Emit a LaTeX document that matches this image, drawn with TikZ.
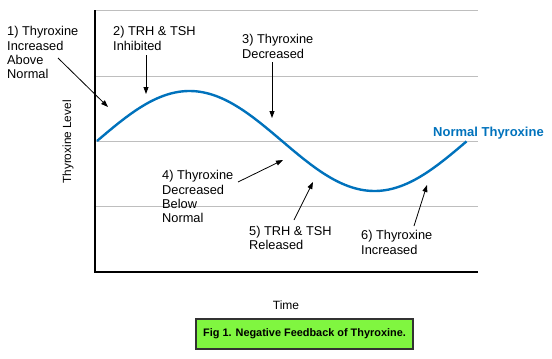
\documentclass[tikz,border=0pt]{standalone}
\usepackage{fontspec}
\setmainfont{Liberation Sans}
\usetikzlibrary{arrows.meta}
\definecolor{curveblue}{RGB}{0,114,188}
\definecolor{gridgray}{RGB}{190,190,190}
\definecolor{capgreen}{RGB}{128,246,64}
\definecolor{capborder}{RGB}{50,50,50}
\tikzset{
  lbl/.style={font=\fontsize{12.8}{14.2}\selectfont, align=left, inner sep=0pt, anchor=north west},
  gridline/.style={draw=gridgray, line width=1pt},
  axisline/.style={draw=black, line width=1.2pt},
  pointer/.style={draw=black, line width=0.8pt, -{Triangle[length=7pt,width=5pt]}},
}
\begin{document}
\begin{tikzpicture}[x=1pt,y=-1pt]
\useasboundingbox (0,0) rectangle (552,359);
% grid
\coordinate (g1l) at (95,10.5);  \coordinate (g1r) at (478,10.5);
\coordinate (g2l) at (95,76);    \coordinate (g2r) at (478,76);
\coordinate (g3l) at (95,141);   \coordinate (g3r) at (478,141);
\coordinate (g4l) at (95,206);   \coordinate (g4r) at (478,206);
\draw[gridline] (g1l) -- (g1r);
\draw[gridline] (g2l) -- (g2r);
\draw[gridline] (g3l) -- (g3r);
\draw[gridline] (g4l) -- (g4r);
% axes
\coordinate (ytop) at (95,10);
\coordinate (orig) at (95,272);
\coordinate (xend) at (478,272);
\draw[axisline] (ytop) -- (orig) -- (xend);
% curve
\draw[curveblue, line width=2.4pt, domain=0:1, samples=120, smooth]
  plot ({97+370*\x}, {141-50*sin(360*\x)});
% labels
\node[font=\fontsize{13}{14}\selectfont\bfseries, text=curveblue, inner sep=0pt] (normal) at (488.5,133) {Normal Thyroxine};
\node[font=\fontsize{11.8}{13}\selectfont, rotate=90, inner sep=0pt] (ylab) at (68,142) {Thyroxine Level};
\node[font=\fontsize{12}{13}\selectfont, inner sep=0pt] (xlab) at (286,305) {Time};

\node[lbl] (l1) at (7,26.5) {1) Thyroxine\\Increased\\Above\\Normal};
\node[lbl] (l2) at (113,26.5) {2) TRH \& TSH\\Inhibited};
\node[lbl] (l3) at (242,34.5) {3) Thyroxine\\Decreased};
\node[lbl] (l4) at (162,170.5) {4) Thyroxine\\Decreased\\Below\\Normal};
\node[lbl] (l5) at (249,226) {5) TRH \& TSH\\Released};
\node[lbl] (l6) at (361,230.5) {6) Thyroxine\\Increased};

% arrows
\coordinate (a1s) at (58,58);   \coordinate (a1e) at (108,107);
\coordinate (a2s) at (146,55);  \coordinate (a2e) at (146,94);
\coordinate (a3s) at (272,62);  \coordinate (a3e) at (272,118);
\coordinate (a4s) at (238,182); \coordinate (a4e) at (283,160);
\coordinate (a5s) at (294,220); \coordinate (a5e) at (313,182);
\coordinate (a6s) at (414,226); \coordinate (a6e) at (427,185);
\draw[pointer] (a1s) -- (a1e);
\draw[pointer] (a2s) -- (a2e);
\draw[pointer] (a3s) -- (a3e);
\draw[pointer] (a4s) -- (a4e);
\draw[pointer] (a5s) -- (a5e);
\draw[pointer] (a6s) -- (a6e);

% caption
\node[draw=capborder, line width=1.2pt, fill=capgreen, minimum width=217pt, minimum height=30pt,
      font=\fontsize{10.9}{12}\selectfont\bfseries, inner sep=0pt] (cap) at (304.5,334) {Fig 1. Negative Feedback of Thyroxine.};
\end{tikzpicture}
\end{document}
